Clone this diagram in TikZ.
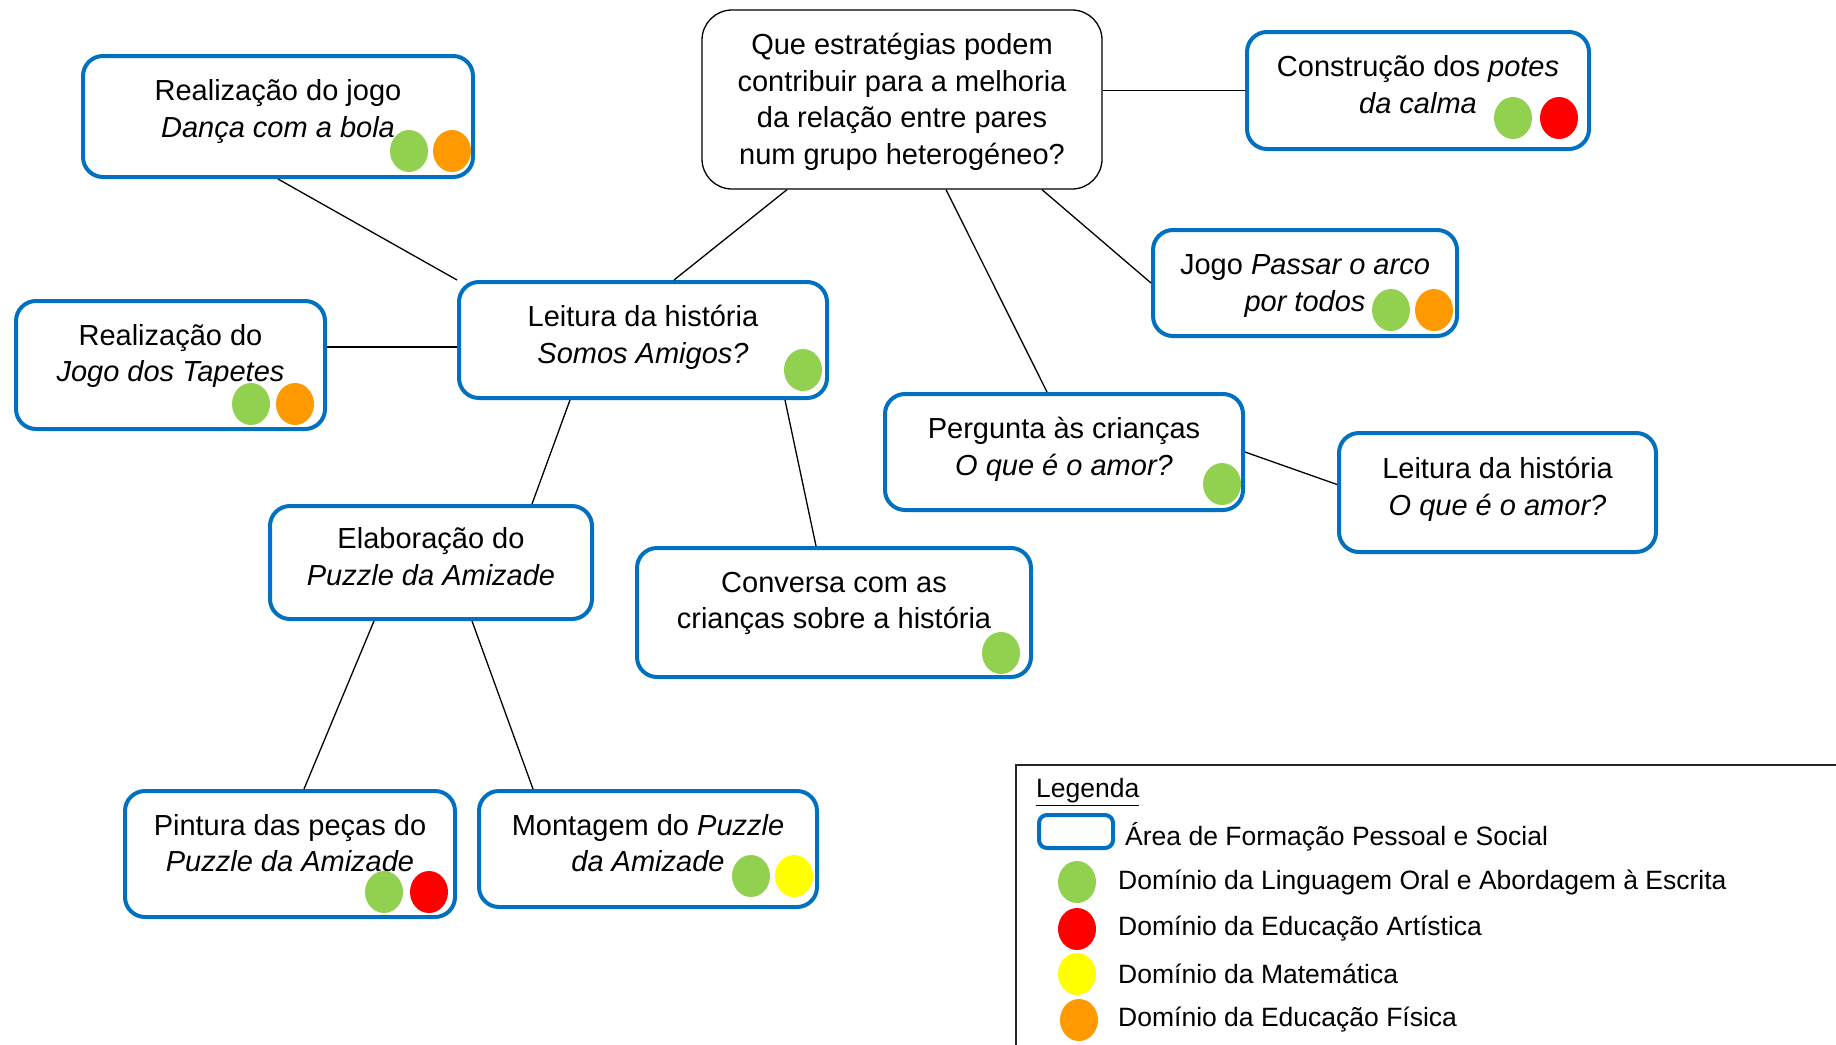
\documentclass[tikz,border=0pt]{standalone}
\usepackage{fontspec}
\setmainfont{Liberation Sans}
\usepackage{tikz}
\usetikzlibrary{shapes.geometric}
\usetikzlibrary{positioning}

\definecolor{areablue}{RGB}{0,112,192}
\definecolor{lingreen}{RGB}{146,208,80}
\definecolor{artred}{RGB}{255,0,0}
\definecolor{matyellow}{RGB}{255,255,0}
\definecolor{fisorange}{RGB}{255,153,0}

\begin{document}
\begin{tikzpicture}[
  x=1pt, y=-1pt,
  every node/.style={font=\fontsize{29}{36.7}\selectfont},
  area/.style = {draw=areablue, line width=4pt, rounded corners=20pt, fill=white, align=center, inner sep=0pt, text depth=12pt},
  question/.style = {draw, line width=1.3pt, rounded corners=30pt, fill=white, align=center, inner sep=0pt},
  dot/.style = {ellipse, minimum width=38pt, minimum height=42pt, inner sep=0pt},
  link/.style = {line width=1.3pt},
  legend/.style = {font=\fontsize{26.5}{32}\selectfont, anchor=west, inner sep=0pt}
  ]
	\useasboundingbox (0,0) rectangle (1836,1044);

	\node[question, minimum width=400pt, minimum height=179pt, text depth=1.5pt] (root) at (902,99.5) {Que estratégias podem\\contribuir para a melhoria\\da relação entre pares\\num grupo heterogéneo?};

	\node[area, minimum width=390pt, minimum height=121pt, text depth=16pt] (dance) at (278,116.5) {Realização do jogo\\\textit{Dança com a bola}};
	\node[area, minimum width=342pt, minimum height=117pt] (potes) at (1418,90.5) {Construção dos \textit{potes}\\\textit{da calma}};
	\node[area, minimum width=304pt, minimum height=106pt, text depth=0pt] (arco) at (1305,283) {Jogo \textit{Passar o arco}\\\textit{por todos}};
	\node[area, minimum width=368pt, minimum height=116pt] (somos) at (643,340) {Leitura da história\\\textit{Somos Amigos?}};
	\node[area, minimum width=309pt, minimum height=128pt, text depth=24pt] (tapetes) at (170.5,365) {Realização do\\\textit{Jogo dos Tapetes}};
	\node[area, minimum width=358pt, minimum height=116pt] (pergunta) at (1064,452) {Pergunta às crianças\\\textit{O que é o amor?}};
	\node[area, minimum width=317pt, minimum height=119pt] (amor) at (1497.5,492.5) {Leitura da história\\\textit{O que é o amor?}};
	\node[area, minimum width=322pt, minimum height=113pt] (puzzle) at (431,562.5) {Elaboração do\\\textit{Puzzle da Amizade}};
	\node[area, minimum width=394pt, minimum height=129pt, text depth=24pt] (conversa) at (834,612.5) {Conversa com as\\crianças sobre a história};
	\node[area, minimum width=330pt, minimum height=126pt, text depth=22pt] (pintura) at (290,854) {Pintura das peças do\\\textit{Puzzle da Amizade}};
	\node[area, minimum width=338pt, minimum height=116pt] (montagem) at (648,849) {Montagem do \textit{Puzzle}\\\textit{da Amizade}};

	% connectors
	\draw[link] ([xshift=-115pt]root.south) -- ([xshift=31pt]somos.north);
	\draw[link] ([xshift=44pt]root.south) -- ([xshift=-17pt]pergunta.north);
	\draw[link] ([xshift=140pt]root.south) -- (arco.west);
	\draw[link] (root.east |- potes.west) -- (potes.west);
	\draw[link] (dance.south) -- (somos.north west);
	\coordinate (tapetes-out) at ([yshift=18pt]tapetes.east);
	\draw[link] (tapetes-out) -- (tapetes-out -| somos.west);
	\draw[link] ([xshift=-73pt]somos.south) -- ([xshift=101pt]puzzle.north);
	\draw[link] ([xshift=142pt]somos.south) -- ([xshift=-18pt]conversa.north);
	\draw[link] (pergunta.east) -- ([yshift=8pt]amor.west);
	\draw[link] ([xshift=-57pt]puzzle.south) -- ([xshift=14pt]pintura.north);
	\draw[link] ([xshift=41pt]puzzle.south) -- ([xshift=-115pt]montagem.north);

	% domain dots
	\node[dot, fill=lingreen] (dance-g) at (409,151) {};
	\node[dot, fill=fisorange] (dance-o) at (452,151) {};
	\node[dot, fill=lingreen] (potes-g) at (1513,118) {};
	\node[dot, fill=artred] (potes-r) at (1559,118) {};
	\node[dot, fill=lingreen] (arco-g) at (1391,310) {};
	\node[dot, fill=fisorange] (arco-o) at (1434,310) {};
	\node[dot, fill=lingreen] (somos-g) at (803,370) {};
	\node[dot, fill=lingreen] (tapetes-g) at (251,404) {};
	\node[dot, fill=fisorange] (tapetes-o) at (295,404) {};
	\node[dot, fill=lingreen] (pergunta-g) at (1222,484) {};
	\node[dot, fill=lingreen] (conversa-g) at (1001,653) {};
	\node[dot, fill=lingreen] (pintura-g) at (384,892) {};
	\node[dot, fill=artred] (pintura-r) at (429,892) {};
	\node[dot, fill=lingreen] (montagem-g) at (751,876) {};
	\node[dot, fill=matyellow] (montagem-y) at (794,876) {};

	% legend
	\draw[line width=2pt, black!85] (1840,765) -| (1016,1048);
	\node[legend] (leg-title) at (1036,792) {\underline{Legenda}};
	\node[area, minimum width=74pt, minimum height=33pt, rounded corners=8pt] (leg-area) at (1076,831.5) {};
	\node[legend] (leg-area-txt) at (1125,837) {Área de Formação Pessoal e Social};
	\node[dot, fill=lingreen] (leg-g) at (1077,882) {};
	\node[legend] (leg-g-txt) at (1118,882) {Domínio da Linguagem Oral e Abordagem à Escrita};
	\node[dot, fill=artred] (leg-r) at (1077,929) {};
	\node[legend] (leg-r-txt) at (1118,929) {Domínio da Educação Artística};
	\node[dot, fill=matyellow] (leg-y) at (1077,974) {};
	\node[legend] (leg-y-txt) at (1118,974) {Domínio da Matemática};
	\node[dot, fill=fisorange] (leg-o) at (1079,1020) {};
	\node[legend] (leg-o-txt) at (1118,1020) {Domínio da Educação Física};

\end{tikzpicture}
\end{document}
